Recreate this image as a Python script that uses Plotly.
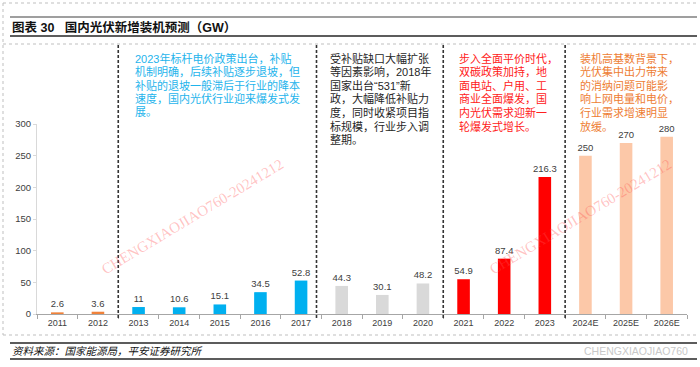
import plotly.graph_objects as go

years = ['2011', '2012', '2013', '2014', '2015', '2016', '2017', '2018', '2019',
         '2020', '2021', '2022', '2023', '2024E', '2025E', '2026E']
values = [2.6, 3.6, 11, 10.6, 15.1, 34.5, 52.8, 44.3, 30.1, 48.2, 54.9, 87.4, 216.3, 250, 270, 280]
groups = [0, 0, 1, 1, 1, 1, 1, 2, 2, 2, 3, 3, 3, 4, 4, 4]
group_colors = ['#F0823A', '#00B0F0', '#D9D9D9', '#FF0000', '#FCC8A8']
y_ticks = [0, 50, 100, 150, 200, 250, 300]

title_text = "图表 30\u00a0\u00a0\u00a0国内光伏新增装机预测（GW）"
source_text = "资料来源：国家能源局，平安证券研究所"
watermark = "CHENGXIAOJIAO760-20241212"
note_lines = [
    (["2023年标杆电价政策出台，补贴", "机制明确，后续补贴逐步退坡，但", "补贴的退坡一般滞后于行业的降本",
      "速度，国内光伏行业迎来爆发式发", "展。"], '#1EB4EC', 133),
    (["受补贴缺口大幅扩张", "等因素影响，2018年", "国家出台“531”新", "政，大幅降低补贴力",
      "度，同时收紧项目指", "标规模，行业步入调", "整期。"], '#262626', 328),
    (["步入全面平价时代，", "双碳政策加持，地", "面电站、户用、工", "商业全面爆发，国",
      "内光伏需求迎新一", "轮爆发式增长。"], '#FF2020', 457),
    (["装机高基数背景下，", "光伏集中出力带来", "的消纳问题可能影", "响上网电量和电价，",
      "行业需求增速明显", "放缓。"], '#EE7D33', 578),
]
separators = [1.5, 6.38, 9.5, 12.5]

W, H = 700, 367
L, R, T, B = 37, 687, 124, 314


def px(x):
    return (x - L) / (R - L)


def py(y):
    return (B - y) / (B - T)


FONT = "Liberation Sans, Arial, Noto Sans CJK SC, sans-serif"
CJK = "Liberation Sans, Noto Sans CJK SC, sans-serif"

fig = go.Figure()
fig.add_trace(go.Bar(
    x=years, y=values,
    marker=dict(color=[group_colors[g] for g in groups], line=dict(width=0)),
    text=[f"{v:g}" for v in values], textposition='outside', constraintext='none',
    textfont=dict(size=9.5, color='#404040', family=FONT),
    cliponaxis=False, hoverinfo='skip',
))

shapes = []
for s in separators:
    shapes.append(dict(type='line', xref='x', yref='paper', x0=s, x1=s,
                       y0=py(45), y1=py(320),
                       line=dict(color='#333333', width=1.6, dash='3px,2px')))
shapes += [
    dict(type='line', xref='paper', yref='paper', x0=px(10), x1=px(697), y0=py(17), y1=py(17),
         line=dict(color='#404040', width=1.2)),
    dict(type='line', xref='paper', yref='paper', x0=px(10), x1=px(697), y0=py(36), y1=py(36),
         line=dict(color='#262626', width=1.6)),
    dict(type='line', xref='paper', yref='paper', x0=px(10), x1=px(697), y0=py(343), y1=py(343),
         line=dict(color='#262626', width=1.4)),
    dict(type='line', xref='paper', yref='paper', x0=px(10), x1=px(697), y0=py(359), y1=py(359),
         line=dict(color='#262626', width=1.4)),
]
for yy in (3, 44, 335):
    shapes.append(dict(type='line', xref='paper', yref='paper', x0=px(3), x1=px(698), y0=py(yy), y1=py(yy),
                       line=dict(color='#BFBFBF', width=1, dash='dot')))
shapes.append(dict(type='line', xref='paper', yref='paper', x0=px(3), x1=px(3), y0=py(3), y1=py(335),
                   line=dict(color='#BFBFBF', width=1, dash='dot')))

annotations = [
    dict(text=f"<b>{title_text}</b>", xref='paper', yref='paper', x=px(10), y=py(27),
         xanchor='left', yanchor='middle', showarrow=False,
         font=dict(size=12.5, color='#111111', family=CJK)),
    dict(text=f"<i>{source_text}</i>", xref='paper', yref='paper', x=px(10), y=py(351),
         xanchor='left', yanchor='middle', showarrow=False,
         font=dict(size=10.5, color='#111111', family=CJK)),
    dict(text="CHENGXIAOJIAO760", xref='paper', yref='paper', x=px(690), y=py(351),
         xanchor='right', yanchor='middle', showarrow=False,
         font=dict(size=10.5, color='#C8C8C8', family=FONT)),
]
for lines, col, x0 in note_lines:
    for i, line in enumerate(lines):
        annotations.append(dict(text=line, xref='paper', yref='paper', x=px(x0), y=py(58 + 13.6 * i),
                                xanchor='left', yanchor='middle', align='left', showarrow=False,
                                font=dict(size=11, color=col, family=CJK)))
for cx, cy in [(192, 217), (580, 217)]:
    annotations.append(dict(text=watermark, xref='paper', yref='paper', x=px(cx), y=py(cy),
                            xanchor='center', yanchor='middle', showarrow=False, textangle=-31,
                            font=dict(size=15, color='rgba(255,80,80,0.35)',
                                      family='Liberation Serif, serif')))

fig.update_layout(
    width=W, height=H,
    margin=dict(l=L, r=W - R, t=T, b=H - B, pad=0),
    paper_bgcolor='white', plot_bgcolor='white',
    showlegend=False, bargap=0.69,
    shapes=shapes, annotations=annotations,
    xaxis=dict(type='category', showline=True, linecolor='#A6A6A6', linewidth=1,
               ticks='outside', tickson='boundaries', ticklen=4, tickcolor='#A6A6A6',
               tickfont=dict(size=9, color='#404040', family=FONT), showgrid=False,
               fixedrange=True),
    yaxis=dict(range=[0, 300], tickvals=y_ticks, showline=True, linecolor='#D9D9D9',
               ticks='outside', ticklen=3, tickcolor='#D9D9D9', showgrid=False, zeroline=False,
               tickfont=dict(size=9.5, color='#404040', family=FONT), fixedrange=True),
)

fig.write_html("out.html", config={'displayModeBar': False, 'staticPlot': True},
               post_script="document.body.style.margin='0';")
